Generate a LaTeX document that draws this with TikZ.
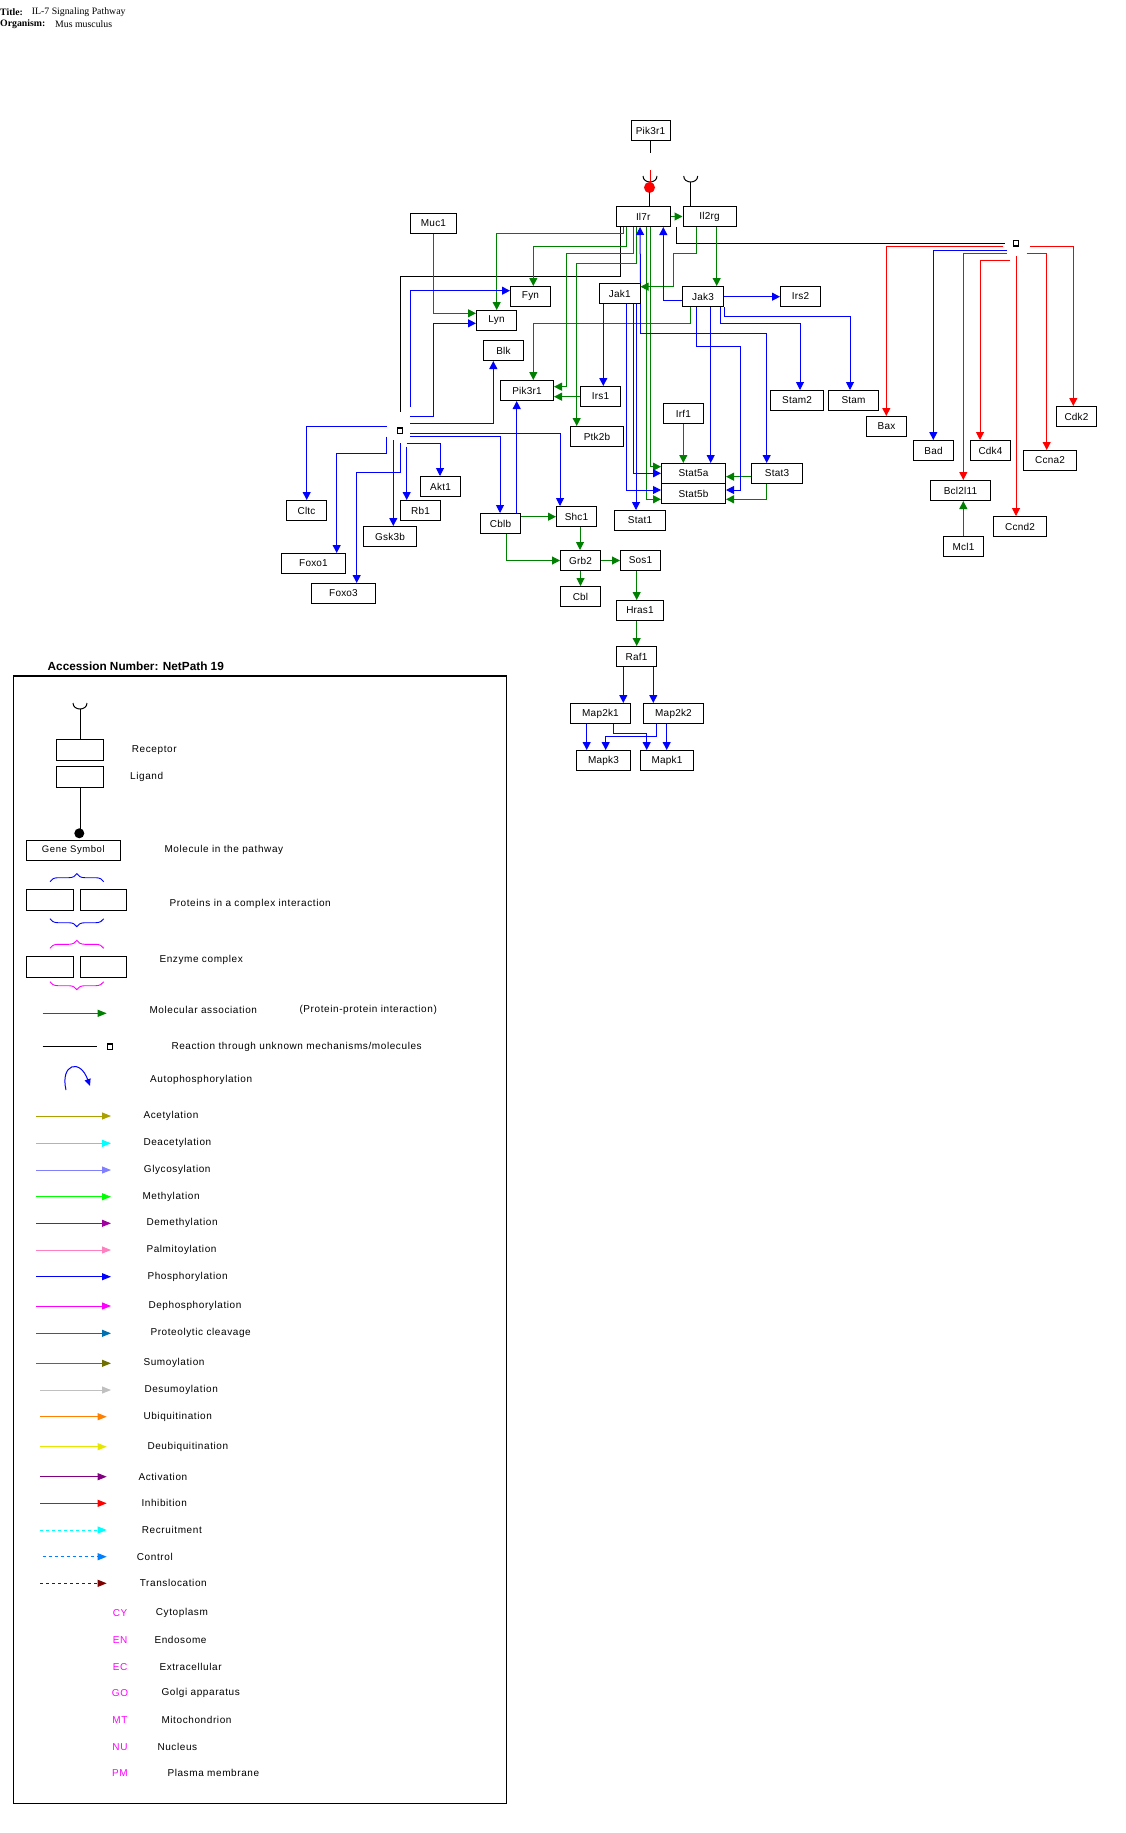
\documentclass[tikz,border=0pt]{standalone}
\usepackage{fontspec}
\setmainfont{Liberation Sans}
\newfontfamily\genefont[LetterSpace=2]{Liberation Sans}
\newfontfamily\legfont[LetterSpace=6]{Liberation Sans}
\newfontfamily\titlefont{Liberation Serif}
\usetikzlibrary{arrows.meta,decorations.pathreplacing}

\definecolor{pgreen}{RGB}{0,128,0}
\definecolor{cAcet}{RGB}{170,160,0}
\definecolor{cDeac}{RGB}{0,255,255}
\definecolor{cGlyc}{RGB}{128,128,255}
\definecolor{cMeth}{RGB}{0,255,0}
\definecolor{cDemeth}{RGB}{160,0,160}
\definecolor{cPalm}{RGB}{255,128,192}
\definecolor{cPhos}{RGB}{0,0,255}
\definecolor{cDephos}{RGB}{255,0,255}
\definecolor{cProt}{RGB}{0,112,176}
\definecolor{cSumo}{RGB}{112,112,0}
\definecolor{cDesumo}{RGB}{192,192,192}
\definecolor{cUbiq}{RGB}{255,128,0}
\definecolor{cDeubiq}{RGB}{230,230,0}
\definecolor{cActiv}{RGB}{128,0,128}
\definecolor{cInhib}{RGB}{255,0,0}
\definecolor{cRecr}{RGB}{0,255,255}
\definecolor{cCtrl}{RGB}{0,128,255}
\definecolor{cTrans}{RGB}{128,0,0}
\definecolor{cComp}{RGB}{255,0,255}

% gene box from its left, top, right and bottom edges
\newcommand\gene[6]{\node[gbox,minimum width={(#4-#2)*1pt},minimum height={(#5-#3)*1pt}] (#1) at ({(#2+#4)/2},{(#3+#5)/2}) {#6};}
% one legend row: coloured arrow and its label
\newcommand\legrow[6]{\draw[legarrow,#1] (#2,#4) -- (#3,#4); \node[legtext] at (#5,#4) {#6};}

\begin{document}
\begin{tikzpicture}[x=1pt,y=-1pt,
  gbox/.style={draw,line width=1pt,inner sep=0pt,fill=white,font=\genefont\fontsize{10}{12}\selectfont},
  con/.style={line width=1pt},
  tip/.style={-{Triangle[length=8pt,width=8pt]}},
  ga/.style={con,pgreen,tip},
  ba/.style={con,blue,tip},
  ra/.style={con,red,tip},
  kl/.style={con,black},
  sq/.style={draw,line width=1.3pt,minimum width=4.5pt,minimum height=5.5pt,inner sep=0pt},
  legtext/.style={anchor=west,inner sep=0pt,font=\legfont\fontsize{10}{12}\selectfont},
  legarrow/.style={line width=1pt,-{Triangle[length=9pt,width=7pt]}},
  cup/.style={line width=1pt},
]
\fill[white] (0,0) rectangle (1126,1833);
\useasboundingbox (0,0) rectangle (1126,1833);

% header
\node[anchor=west,inner sep=0pt,font=\titlefont\bfseries\fontsize{9.8}{11}\selectfont] at (0,11.7) {Title:};
\node[anchor=west,inner sep=0pt,font=\titlefont\fontsize{9.8}{11}\selectfont] at (31.7,11.7) {IL-7 Signaling Pathway};
\node[anchor=west,inner sep=0pt,font=\titlefont\bfseries\fontsize{9.8}{11}\selectfont] at (0,24.3) {Organism:};
\node[anchor=west,inner sep=0pt,font=\titlefont\fontsize{9.8}{11}\selectfont] at (55,24.3) {Mus musculus};

% ---------------- pathway molecules ----------------
\gene{pikT}{631}{121}{670}{141}{Pik3r1}
\gene{il7r}{616.5}{206.5}{670}{226.5}{Il7r}
\gene{il2rg}{683}{206.5}{736}{226.5}{Il2rg}
\gene{muc1}{410.5}{213.5}{456.5}{233.5}{Muc1}
\gene{fyn}{510.5}{286.5}{550.5}{306.5}{Fyn}
\gene{lyn}{476.5}{310.5}{516.5}{330.5}{Lyn}
\gene{blk}{483.5}{340.5}{523.5}{360.5}{Blk}
\gene{jak1}{599.5}{283.5}{640}{303.5}{Jak1}
\gene{jak3}{682.5}{286.5}{723.5}{306.5}{Jak3}
\gene{irs2}{780.5}{286.5}{820.5}{306.5}{Irs2}
\gene{pik3r1}{500.5}{380.5}{553.5}{400.5}{Pik3r1}
\gene{irs1}{580.5}{386.5}{620.5}{406.5}{Irs1}
\gene{ptk2b}{570.5}{426.5}{623.5}{446.5}{Ptk2b}
\gene{irf1}{663.5}{403.5}{703.5}{423.5}{Irf1}
\gene{stam2}{770.5}{390.5}{823.5}{410.5}{Stam2}
\gene{stam}{828.5}{390.5}{878.5}{410.5}{Stam}
\gene{bax}{866.5}{416.5}{906.5}{436.5}{Bax}
\gene{bad}{913.5}{440.5}{953.5}{460.5}{Bad}
\gene{cdk4}{970.5}{440.5}{1010.5}{460.5}{Cdk4}
\gene{cdk2}{1056.5}{406.5}{1096.5}{426.5}{Cdk2}
\gene{ccna2}{1023.5}{450.5}{1076.5}{470.5}{Ccna2}
\gene{bcl}{930.5}{480.5}{990.5}{500.5}{Bcl2l11}
\gene{ccnd2}{993.5}{516.5}{1046.5}{536.5}{Ccnd2}
\gene{mcl1}{943.5}{536.5}{983.5}{556.5}{Mcl1}
\gene{stat3}{751.5}{463.5}{802.5}{483.5}{Stat3}
\gene{stat5a}{661.5}{463.5}{725.5}{483.5}{Stat5a}
\gene{stat5b}{661.5}{483.5}{725.5}{503.5}{Stat5b}
\gene{stat1}{614.5}{510.5}{665.5}{530.5}{Stat1}
\gene{akt1}{420.5}{476.5}{460.5}{496.5}{Akt1}
\gene{rb1}{400.5}{500.5}{440.5}{520.5}{Rb1}
\gene{cltc}{286.5}{500.5}{326.5}{520.5}{Cltc}
\gene{gsk3b}{363.5}{526.5}{416.5}{546.5}{Gsk3b}
\gene{foxo1}{281.5}{553.5}{345.5}{573.5}{Foxo1}
\gene{foxo3}{311.5}{583.5}{375.5}{603.5}{Foxo3}
\gene{cblb}{480.5}{513.5}{520.5}{533.5}{Cblb}
\gene{shc1}{556.5}{506.5}{596.5}{526.5}{Shc1}
\gene{grb2}{560.5}{550.5}{600.5}{570.5}{Grb2}
\gene{sos1}{620.5}{550.5}{660.5}{570.5}{Sos1}
\gene{cbl}{560.5}{586.5}{600.5}{606.5}{Cbl}
\gene{hras1}{616.5}{600.5}{663.5}{620.5}{Hras1}
\gene{raf1}{616.5}{646.5}{656.5}{666.5}{Raf1}
\gene{map2k1}{570.5}{703.5}{630.5}{723.5}{Map2k1}
\gene{map2k2}{643.5}{703.5}{703.5}{723.5}{Map2k2}
\gene{mapk3}{576.5}{750.5}{630.5}{770.5}{Mapk3}
\gene{mapk1}{640.5}{750.5}{693.5}{770.5}{Mapk1}

% unknown-mechanism junctions
\node[sq] (sqA) at (400,430.7) {};
\node[sq] (sqB) at (1016,243.3) {};

% receptor symbols
\draw[cup] (643,176) .. controls (643,184) and (657,184) .. (657,176);
\draw[cup] (683.7,176) .. controls (683.7,184) and (697.7,184) .. (697.7,176);
\draw[con,red] (650,170) -- (650,183);
\fill[red] (649.5,187.5) circle[radius=5.5pt];
\draw[con] (649.5,192) -- (il7r.north -| 649.5,0);
\draw[con] (690.7,182) -- (il2rg.north -| 690.7,0);

% ---------------- black connectors ----------------
\draw[kl] (pikT.south) -- (650.5,153.3);
\draw[kl,shorten >=15pt] (il7r.south -| 620.7,0) |- (sqA.north |- 0,276) -- (sqA.north);
\draw[kl,shorten >=8pt] (il7r.south -| 676,0) |- (sqB.west);

% ---------------- green connectors ----------------
\draw[ga] (il7r.east) -- (il2rg.west);
\draw[ga] (il7r.south -| 623.3,0) |- (496.7,233.3) -- (lyn.north -| 496.7,0);
\draw[ga] (il7r.south -| 626.7,0) |- (533.3,246) -- (fyn.north -| 533.3,0);
\draw[ga] (il7r.south -| 633.3,0) |- (566,253.3) |- (pik3r1.east |- 0,386.7);
\draw[ga] (il7r.south -| 636.7,0) |- (576.7,263.3) -- (ptk2b.north -| 576.7,0);
\draw[ga] (il7r.south -| 650.7,0) |- (stat5a.west |- 0,466.7);
\draw[ga] (il7r.south -| 646.7,0) |- (stat5b.west |- 0,499.3);
\draw[ga] (il2rg.south -| 696,0) |- (673.3,253.3) |- (jak1.east |- 0,286.7);
\draw[ga] (il2rg.south -| 716.7,0) -- (jak3.north -| 716.7,0);
\draw[ga] (jak3.south -| 690,0) |- (533.3,323.3) -- (pik3r1.north -| 533.3,0);
\draw[ga] (muc1.south -| 433.3,0) |- (lyn.west |- 0,313.3);
\draw[ga] (irs1.west |- 0,396.7) -- (pik3r1.east |- 0,396.7);
\draw[ga] (irf1.south -| 683.3,0) -- (stat5a.north -| 683.3,0);
\draw[ga] (stat3.west |- 0,476.7) -- (stat5a.east |- 0,476.7);
\draw[ga] (stat3.south -| 766.7,0) |- (stat5b.east |- 0,499.3);
\draw[ga] (mcl1.north -| 963.3,0) -- (bcl.south -| 963.3,0);
\draw[ga] (cblb.east |- 0,516.7) -- (shc1.west |- 0,516.7);
\draw[ga] (cblb.south -| 506.7,0) |- (grb2.west);
\draw[ga] (shc1.south -| 580,0) -- (grb2.north -| 580,0);
\draw[ga] (grb2.east) -- (sos1.west);
\draw[ga] (grb2.south) -- (cbl.north);
\draw[ga] (sos1.south -| 636.7,0) -- (hras1.north -| 636.7,0);
\draw[ga] (hras1.south -| 636.7,0) -- (raf1.north -| 636.7,0);

% ---------------- blue connectors ----------------
\draw[ba] (jak3.west |- 0,300) -| (il7r.south -| 663.3,0);
\draw[ba] (jak1.north east) -- (il7r.south -| 640,0);
\draw[ba] (jak1.south east) |- (766.7,333.3) -- (stat3.north -| 766.7,0);
\draw[ba] (jak3.east |- 0,296.7) -- (irs2.west |- 0,296.7);
\draw[ba] (jak3.south east) |- (850,316.7) -- (stam.north -| 850,0);
\draw[ba] (jak3.south -| 720.7,0) |- (800,323.3) -- (stam2.north -| 800,0);
\draw[ba] (jak3.south -| 710.7,0) -- (stat5a.north -| 710.7,0);
\draw[ba] (jak3.south -| 696.7,0) |- (740,346) |- (stat5b.east |- 0,490);
\draw[ba] (jak1.south -| 603.3,0) -- (irs1.north -| 603.3,0);
\draw[ba] (jak1.south -| 626.7,0) |- (stat5b.west |- 0,490);
\draw[ba] (jak1.south -| 633.3,0) |- (stat5a.west |- 0,473.3);
\draw[ba] (jak1.south -| 636,0) -- (stat1.north -| 636,0);
\draw[ba] (cblb.north -| 516.7,0) -- (pik3r1.south -| 516.7,0);
\draw[ba] (raf1.south -| 623.3,0) -- (map2k1.north -| 623.3,0);
\draw[ba] (raf1.south -| 653.3,0) -- (map2k2.north -| 653.3,0);
\draw[ba] (map2k1.south -| 586.7,0) -- (mapk3.north -| 586.7,0);
\draw[ba] (map2k1.south -| 613.3,0) |- (646.7,733.3) -- (mapk1.north -| 646.7,0);
\draw[ba] (map2k2.south -| 656.7,0) |- (605.7,736) -- (mapk3.north -| 605.7,0);
\draw[ba] (map2k2.south -| 666.7,0) -- (mapk1.north -| 666.7,0);

% outputs of the left junction
\draw[ba] (410,406.7) |- (fyn.west |- 0,290.7);
\draw[ba] (410,416) -| (433.3,323.3) -- (lyn.west |- 0,323.3);
\draw[ba] (410,423.3) -| (blk.south -| 493.3,0);
\draw[ba] (386.7,426) -| (cltc.north -| 306.7,0);
\draw[ba] (410,433.3) -| (shc1.north -| 560,0);
\draw[ba] (410,436) -| (cblb.north -| 500,0);
\draw[ba] (386.7,436.7) |- (336.7,453.3) -- (foxo1.north -| 336.7,0);
\draw[ba] (393.3,440) -- (gsk3b.north -| 393.3,0);
\draw[ba] (400,443.3) |- (356.7,472.7) -- (foxo3.north -| 356.7,0);
\draw[ba] (406.7,446.7) -- (rb1.north -| 406.7,0);
\draw[ba] (406.7,443.3) -| (akt1.north -| 440,0);

% outputs of the right junction
\draw[ra] (1003.3,246) -| (bax.north -| 886.3,0);
\draw[ra] (1030,246) -| (cdk2.north -| 1073.3,0);
\draw[ba] (1006.7,250.7) -| (bad.north -| 933.3,0);
\draw[ra] (1006.7,253.3) -| (bcl.north -| 963.3,0);
\draw[ra] (1010,260.3) -| (cdk4.north -| 980,0);
\draw[ra] (1026.7,253.3) -| (ccna2.north -| 1046.7,0);
\draw[ra] (1016,256) -- (ccnd2.north -| 1016,0);

% ---------------- legend ----------------
\node[anchor=west,inner sep=0pt,font=\bfseries\fontsize{11.8}{13}\selectfont] at (47.5,666.7) {Accession Number: NetPath 19};
\draw[line width=1.2pt] (13.3,676) rectangle (506.7,1803.3);

\draw[cup] (73,703) .. controls (73,711) and (87,711) .. (87,703);
\gene{recbox}{56}{739.3}{103.7}{760.3}{}
\gene{ligbox}{56}{766.3}{103.7}{787.3}{}
\draw[line width=1pt] (80,709) -- (recbox.north -| 80,0);
\fill (79.3,833.3) circle[radius=5pt];
\draw[line width=1pt] (ligbox.south -| 80,0) -- (80,830);
\node[legtext] at (131.7,750) {Receptor};
\node[legtext] at (130,776.7) {Ligand};

\gene{gsbox}{26.3}{840.3}{120.3}{860.3}{\legfont\fontsize{9.5}{11}\selectfont Gene Symbol}
\node[legtext] at (164.3,850) {Molecule in the pathway};

\draw[blue,line width=0.9pt,decorate,decoration={brace,amplitude=8pt}] (50,881.7) -- (103.7,881.7);
\gene{cx1}{26.3}{889.3}{73.7}{910.3}{}
\gene{cx2}{80.3}{889.3}{126.7}{910.3}{}
\draw[blue,line width=0.9pt,decorate,decoration={brace,amplitude=8pt}] (103.7,918.7) -- (50,918.7);
\node[legtext] at (169.3,904) {Proteins in a complex interaction};

\draw[cComp,line width=0.9pt,decorate,decoration={brace,amplitude=8pt}] (50,948.3) -- (103.7,948.3);
\gene{ez1}{26.3}{956.3}{73.7}{977.3}{}
\gene{ez2}{80.3}{956.3}{126.7}{977.3}{}
\draw[cComp,line width=0.9pt,decorate,decoration={brace,amplitude=8pt}] (103.7,981.7) -- (50,981.7);
\node[legtext] at (159.3,960) {Enzyme complex};

\draw[legarrow,pgreen] (42.7,1013.3) -- (106.7,1013.3);
\node[legtext] at (149.3,1010) {Molecular association};
\node[legtext] at (299.3,1010) {(Protein-protein interaction)};

\draw[line width=1pt] (42.7,1046.7) -- (96.7,1046.7);
\node[sq] at (110,1046.7) {};
\node[legtext] at (171.3,1046.7) {Reaction through unknown mechanisms/molecules};

\draw[blue,line width=1pt,-{Triangle[length=7pt,width=6pt]}] (66,1090) .. controls (60,1064) and (80,1058) .. (90,1086);
\node[legtext] at (150,1080) {Autophosphorylation};

\legrow{cAcet}{36}{111}{1116}{143.3}{Acetylation}
\legrow{cDeac}{36}{111}{1143.3}{143.3}{Deacetylation}
\legrow{cGlyc}{36}{111}{1170}{143.7}{Glycosylation}
\legrow{cMeth}{36}{111}{1196.7}{142.3}{Methylation}
\legrow{cDemeth}{36}{111}{1223.3}{146.3}{Demethylation}
\legrow{cPalm}{36}{111}{1250}{146.3}{Palmitoylation}
\legrow{cPhos}{36}{111}{1276.7}{147.3}{Phosphorylation}
\legrow{cDephos}{36}{111}{1306}{148.3}{Dephosphorylation}
\legrow{cProt}{36}{111}{1333.3}{150.3}{Proteolytic cleavage}
\legrow{cSumo}{36}{111}{1363.3}{143.3}{Sumoylation}
\legrow{cDesumo}{40}{111}{1390}{144.3}{Desumoylation}
\legrow{cUbiq}{40}{106.7}{1416.7}{143.3}{Ubiquitination}
\legrow{cDeubiq}{40}{106.7}{1446.7}{147.3}{Deubiquitination}
\legrow{cActiv}{40}{106.7}{1476.7}{138.3}{Activation}
\legrow{cInhib}{40}{106.7}{1503.3}{141.3}{Inhibition}
\legrow{cRecr,dashed}{40}{106.7}{1530}{141.7}{Recruitment}
\legrow{cCtrl,dashed}{42.7}{106.7}{1556.7}{136.7}{Control}
\legrow{cTrans,dashed}{40}{106.7}{1583.3}{139.7}{Translocation}

% compartment codes
\begin{scope}[every node/.style={inner sep=0pt,font=\legfont\fontsize{10}{12}\selectfont}]
\node[text=cComp] at (120,1613.3) {CY}; \node[anchor=west] at (155.7,1613.3) {Cytoplasm};
\node[text=cComp] at (120,1640) {EN};   \node[anchor=west] at (154.3,1640) {Endosome};
\node[text=cComp] at (120,1666.7) {EC}; \node[anchor=west] at (159.3,1666.7) {Extracellular};
\node[text=cComp] at (120,1693.3) {GO}; \node[anchor=west] at (161.3,1693.3) {Golgi apparatus};
\node[text=cComp] at (120,1720) {MT};   \node[anchor=west] at (161.3,1720) {Mitochondrion};
\node[text=cComp] at (120,1746.7) {NU}; \node[anchor=west] at (157.3,1746.7) {Nucleus};
\node[text=cComp] at (120,1773.3) {PM}; \node[anchor=west] at (167.3,1773.3) {Plasma membrane};
\end{scope}
\end{tikzpicture}
\end{document}
